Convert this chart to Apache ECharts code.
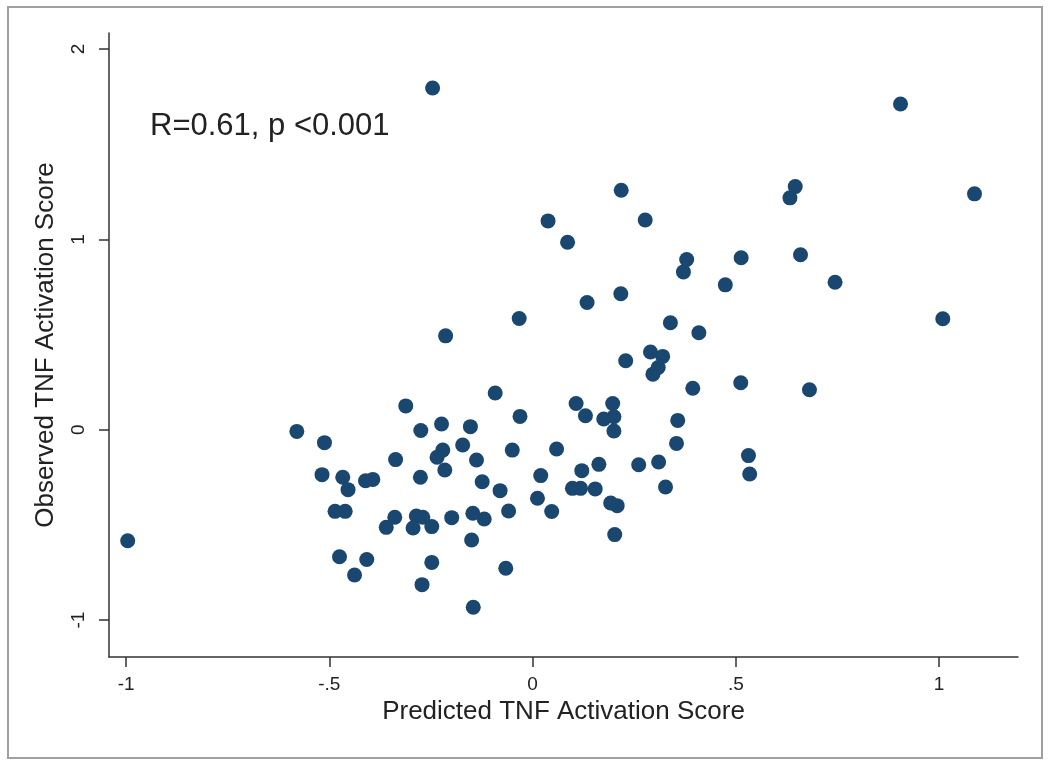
<!DOCTYPE html>
<html>
<head>
<meta charset="utf-8">
<script src="https://cdn.jsdelivr.net/npm/echarts@6/dist/echarts.min.js"></script>
<style>
html,body{margin:0;padding:0;background:#fff;}
#chart{width:1050px;height:767px;}
</style>
</head>
<body>
<div id="chart"></div>
<script>
// Predicted (x) and observed (y) TNF activation scores
const predicted = [
  -0.246, 0.905, 1.087, 0.646, 0.633, 0.038, 0.218, 0.277, 0.086, 0.379,
  0.371, 0.513, 0.659, 0.474, 0.744, 0.217, 0.134, -0.033, 1.009, 0.339,
  0.409, -0.214, 0.229, 0.290, 0.320, 0.309, 0.296, 0.394, 0.512, 0.681,
  -0.092, -0.312, -0.580, -0.512, -0.518, -0.467, -0.454, -0.411, -0.393, -0.486,
  -0.461, -0.475, -0.408, -0.438, -0.337, -0.275, -0.224, -0.153, -0.031, -0.172,
  -0.221, -0.235, -0.216, -0.138, -0.276, -0.124, -0.080, -0.050, 0.059, 0.020,
  0.012, 0.047, -0.059, -0.147, -0.119, -0.199, -0.286, -0.270, -0.294, -0.248,
  -0.339, -0.360, -0.150, -0.248, -0.066, -0.272, -0.146, -0.996, 0.107, 0.197,
  0.130, 0.175, 0.200, 0.200, 0.357, 0.354, 0.531, 0.534, 0.121, 0.163,
  0.261, 0.310, 0.327, 0.098, 0.118, 0.154, 0.192, 0.208, 0.202
];
const observed = [
  1.795, 1.711, 1.239, 1.277, 1.218, 1.097, 1.258, 1.102, 0.985, 0.894,
  0.829, 0.903, 0.919, 0.761, 0.775, 0.714, 0.668, 0.584, 0.583, 0.562,
  0.509, 0.493, 0.362, 0.408, 0.385, 0.327, 0.292, 0.218, 0.247, 0.210,
  0.193, 0.125, -0.009, -0.068, -0.236, -0.250, -0.315, -0.268, -0.261, -0.429,
  -0.429, -0.667, -0.682, -0.763, -0.157, -0.004, 0.030, 0.016, 0.070, -0.080,
  -0.107, -0.145, -0.212, -0.159, -0.250, -0.273, -0.320, -0.107, -0.101, -0.241,
  -0.360, -0.430, -0.427, -0.439, -0.469, -0.462, -0.453, -0.460, -0.516, -0.509,
  -0.460, -0.513, -0.579, -0.697, -0.728, -0.814, -0.933, -0.583, 0.138, 0.138,
  0.073, 0.056, 0.068, -0.007, 0.049, -0.072, -0.136, -0.233, -0.215, -0.182,
  -0.184, -0.170, -0.301, -0.308, -0.308, -0.311, -0.385, -0.399, -0.551
];
const xTicks = [-1, -0.5, 0, 0.5, 1];
const yTicks = [-1, 0, 1, 2];
const xTitle = 'Predicted TNF Activation Score';
const yTitle = 'Observed TNF Activation Score';
const annotation = 'R=0.61, p <0.001';

function fmt(v) {
  if (v === 0) return '0';
  let s = String(v);
  s = s.replace(/^0\./, '.').replace(/^-0\./, '-.');
  return s;
}

const points = predicted.map((x, i) => [x, observed[i]]);
const font = '"Liberation Sans", Arial, Helvetica, sans-serif';
const axisColor = '#333333';

const chart = echarts.init(document.getElementById('chart'), null, {renderer: 'canvas'});
chart.setOption({
  animation: false,
  backgroundColor: '#ffffff',
  grid: {left: 109, right: 32, top: 33, bottom: 110, containLabel: false},
  xAxis: {
    type: 'value',
    min: -1.042, max: 1.194,
    splitLine: {show: false},
    axisLine: {show: true, onZero: false, lineStyle: {color: axisColor, width: 1.5}},
    axisTick: {show: true, inside: false, length: 10, customValues: xTicks, lineStyle: {color: axisColor, width: 1.5}},
    axisLabel: {show: true, customValues: xTicks, formatter: fmt, margin: 18, fontSize: 19, color: '#222', fontFamily: font},
    name: xTitle, nameLocation: 'middle', nameGap: 42,
    nameTextStyle: {fontSize: 26, color: '#222', fontFamily: font}
  },
  yAxis: {
    type: 'value',
    min: -1.194, max: 2.084,
    splitLine: {show: false},
    axisLine: {show: true, onZero: false, lineStyle: {color: axisColor, width: 1.5}},
    axisTick: {show: true, inside: false, length: 10, customValues: yTicks, lineStyle: {color: axisColor, width: 1.5}},
    axisLabel: {show: true, customValues: yTicks, formatter: fmt, rotate: 90, margin: 21, fontSize: 19, color: '#222', fontFamily: font},
    name: yTitle, nameLocation: 'middle', nameGap: 50, nameRotate: 90,
    nameTextStyle: {fontSize: 26, color: '#222', fontFamily: font}
  },
  series: [{
    type: 'scatter',
    data: points,
    symbol: 'circle',
    symbolSize: 15,
    itemStyle: {color: '#1a476f', opacity: 1}
  }],
  graphic: [
    {
      type: 'rect', silent: true,
      shape: {x: 8, y: 7, width: 1034, height: 751},
      style: {fill: 'none', stroke: '#a0a0a0', lineWidth: 2}
    },
    {
      type: 'text', left: 150, top: 111, silent: true,
      style: {text: annotation, font: '31px ' + font, fill: '#222'}
    }
  ]
});
</script>
</body>
</html>
